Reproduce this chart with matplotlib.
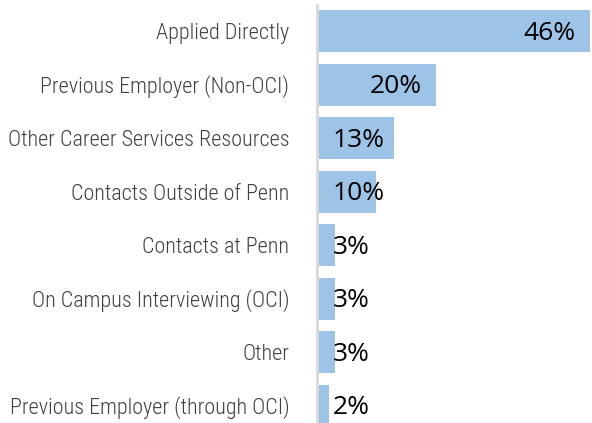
import matplotlib.pyplot as plt

categories = [
    "Applied Directly",
    "Previous Employer (Non-OCI)",
    "Other Career Services Resources",
    "Contacts Outside of Penn",
    "Contacts at Penn",
    "On Campus Interviewing (OCI)",
    "Other",
    "Previous Employer (through OCI)",
]
values = [46, 20, 13, 10, 3, 3, 3, 2]

label_fonts = ["Open Sans Condensed Light", "Roboto Condensed", "Liberation Sans Narrow",
               "Open Sans", "DejaVu Sans"]

W, H = 592, 423
fig = plt.figure(figsize=(W / 100, H / 100), dpi=100)
ax = fig.add_axes([317 / W, 0, 275 / W, (H - 5) / H])

pos = list(range(len(categories)))
ax.barh(pos, values, height=0.785, color="#9DC3E6", zorder=2)
ax.set_xlim(0, 46.4)
ax.set_ylim(7.327, -0.486)

for p, v in zip(pos, values):
    if v >= 15:
        ax.text(v - 2.3, p + 0.04, f"{v}%", ha="right", va="center", fontsize=19,
                family="Open Sans", color="black", zorder=3)
    else:
        ax.text(2.6, p + 0.04, f"{v}%", ha="left", va="center", fontsize=19,
                family="Open Sans", color="black", zorder=3)

ax.set_yticks(pos)
ticks = ax.set_yticklabels(categories, family=label_fonts, fontsize=17,
                           fontweight="light", color="#404040")
ax.tick_params(axis="y", length=0, pad=20)
ax.set_xticks([])
for s in ["top", "right", "bottom"]:
    ax.spines[s].set_visible(False)
ax.spines["left"].set_color("#D9D9D9")
ax.spines["left"].set_linewidth(2)
ax.spines["left"].set_zorder(4)

# shrink labels so the longest one spans about 283 px like the original
r = fig.canvas.get_renderer()
widest = max(t.get_window_extent(r).width for t in ticks)
size = 17 * 283 / widest
for t in ticks:
    t.set_fontsize(size)

fig.savefig("out.png", dpi=100)
